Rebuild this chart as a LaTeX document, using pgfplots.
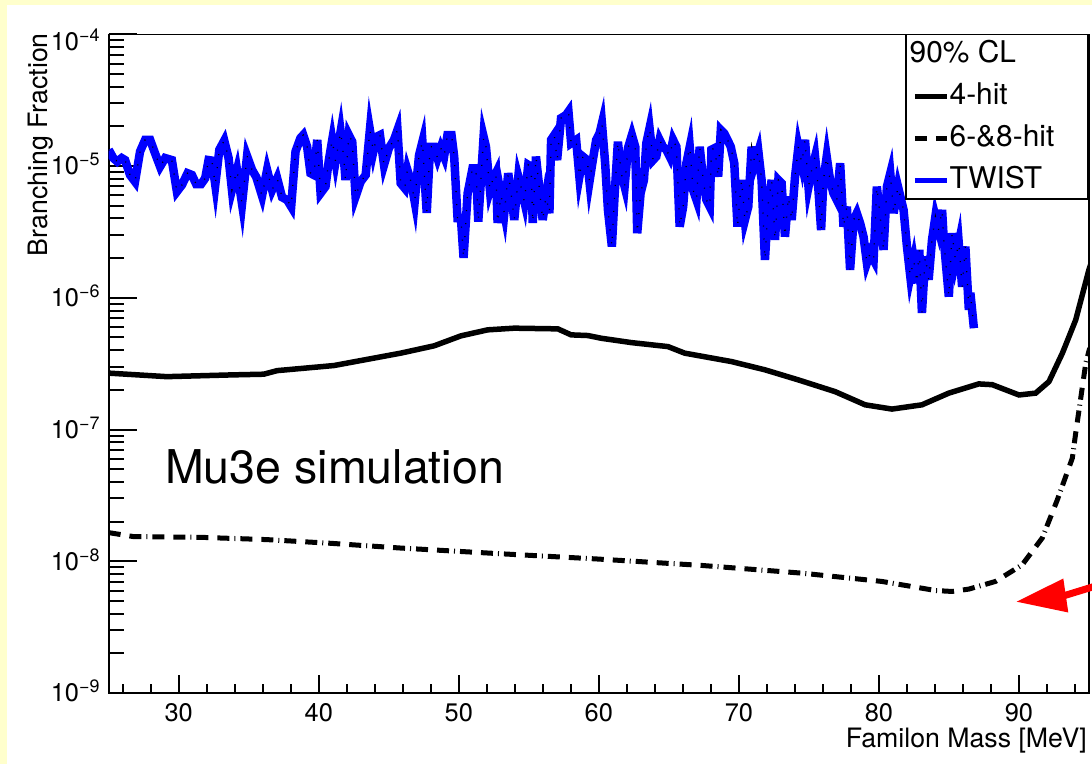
\documentclass[border=0pt]{standalone}
\usepackage{pgfplots}
\usepackage{pgfplotstable}
\pgfplotsset{compat=1.18}
\usepackage{fontspec}
\setmainfont{TeX Gyre Heros}

\definecolor{slideyellow}{RGB}{255,255,204}
\definecolor{rootblue}{RGB}{0,0,255}

% decade label in ROOT style: 10 with a raised exponent
\newcommand{\dec}[1]{10\smash{\raisebox{9bp}{\fontsize{18}{18}\selectfont −#1}}}

% 4-hit sensitivity (90% CL)
\pgfplotstableread{
m bf
25.00 2.68e-7
29.15 2.52e-7
33.90 2.60e-7
36.07 2.63e-7
37.03 2.80e-7
41.08 3.06e-7
45.85 3.80e-7
48.24 4.32e-7
50.15 5.14e-7
52.06 5.71e-7
53.96 5.88e-7
57.07 5.81e-7
58.02 5.23e-7
59.22 5.17e-7
60.17 4.93e-7
62.32 4.57e-7
64.94 4.26e-7
66.13 3.80e-7
69.47 3.28e-7
71.86 2.84e-7
74.25 2.38e-7
76.87 1.94e-7
79.02 1.54e-7
80.93 1.43e-7
83.07 1.54e-7
84.99 1.89e-7
87.13 2.22e-7
88.09 2.19e-7
90.00 1.83e-7
91.19 1.89e-7
92.14 2.31e-7
93.10 3.80e-7
94.05 6.79e-7
95.00 1.64e-6
95.20 1.90e-6
}\fourhit

% 6- and 8-hit sensitivity (90% CL)
\pgfplotstableread{
m bf
25.00 1.65e-8
26.76 1.54e-8
31.55 1.52e-8
36.31 1.46e-8
40.80 1.37e-8
45.85 1.26e-8
53.01 1.14e-8
59.93 1.04e-8
67.33 9.30e-9
74.48 8.13e-9
80.21 7.03e-9
84.03 6.00e-9
85.22 5.90e-9
86.42 6.15e-9
88.32 7.03e-9
90.23 9.40e-9
91.66 1.50e-8
92.74 2.93e-8
93.81 6.07e-8
94.05 9.40e-8
94.77 3.19e-7
95.05 4.15e-7
}\sixeighthit

% TWIST limit
\pgfplotstableread{
m bf
25.00 1.33e-5
25.33 1.15e-5
25.62 1.08e-5
25.93 1.15e-5
26.17 1.11e-5
26.52 0.856e-5
26.88 0.761e-5
27.24 1.29e-5
27.60 1.58e-5
27.96 1.58e-5
28.31 1.25e-5
28.67 0.990e-5
29.03 1.15e-5
29.51 1.11e-5
29.87 0.640e-5
30.23 0.719e-5
30.63 0.882e-5
30.94 0.856e-5
31.25 0.728e-5
31.59 0.728e-5
31.89 0.807e-5
32.13 1.11e-5
32.37 1.10e-5
32.61 0.719e-5
32.90 1.33e-5
33.25 1.56e-5
33.56 1.15e-5
33.80 0.659e-5
34.16 0.934e-5
34.52 0.516e-5
34.88 1.19e-5
35.24 0.934e-5
35.54 0.823e-5
35.95 0.594e-5
36.31 0.934e-5
36.67 0.659e-5
37.03 0.807e-5
37.38 0.580e-5
37.74 0.553e-5
38.03 0.492e-5
38.34 1.29e-5
38.69 1.63e-5
38.89 1.72e-5
39.17 1.40e-5
39.41 0.882e-5
39.65 0.856e-5
39.89 1.58e-5
40.13 0.622e-5
40.48 0.698e-5
40.72 1.11e-5
40.96 1.58e-5
41.20 1.08e-5
41.56 1.83e-5
41.79 1.15e-5
41.91 0.784e-5
42.15 1.72e-5
42.39 1.53e-5
42.63 0.587e-5
42.99 0.761e-5
43.35 0.856e-5
43.65 1.88e-5
43.90 1.29e-5
44.13 1.67e-5
44.37 1.72e-5
44.66 1.02e-5
45.01 1.37e-5
45.37 1.58e-5
45.62 1.88e-5
45.85 0.740e-5
46.14 0.679e-5
46.33 0.934e-5
46.62 0.740e-5
46.85 0.537e-5
47.16 1.21e-5
47.40 1.53e-5
47.71 0.441e-5
47.95 1.40e-5
48.24 1.40e-5
48.48 1.15e-5
48.71 1.37e-5
48.95 1.18e-5
49.19 1.72e-5
49.48 1.72e-5
49.67 1.18e-5
49.91 0.402e-5
50.15 0.402e-5
50.34 0.201e-5
50.63 0.622e-5
50.98 0.962e-5
51.22 0.962e-5
51.39 0.379e-5
51.58 0.784e-5
51.77 1.67e-5
51.94 1.40e-5
52.22 0.659e-5
52.42 0.784e-5
52.65 0.882e-5
52.77 0.370e-5
53.01 0.604e-5
53.25 0.439e-5
53.53 0.882e-5
53.73 0.622e-5
53.96 0.390e-5
54.25 0.831e-5
54.44 0.698e-5
54.68 0.537e-5
54.96 1.02e-5
55.16 0.990e-5
55.28 0.370e-5
55.51 1.18e-5
55.75 0.679e-5
55.99 0.390e-5
56.23 0.587e-5
56.47 0.439e-5
56.59 1.58e-5
56.82 1.72e-5
57.02 1.11e-5
57.30 2.31e-5
57.66 2.44e-5
57.83 2.59e-5
58.02 1.49e-5
58.38 1.58e-5
58.61 0.831e-5
58.86 1.18e-5
59.17 1.11e-5
59.33 0.761e-5
59.57 1.11e-5
59.81 1.58e-5
60.05 1.77e-5
60.22 2.11e-5
60.45 1.05e-5
60.65 0.464e-5
60.93 0.245e-5
61.12 0.587e-5
61.36 1.53e-5
61.60 0.882e-5
61.84 0.698e-5
62.08 1.37e-5
62.36 1.72e-5
62.60 1.40e-5
62.74 0.309e-5
62.98 0.622e-5
63.22 0.784e-5
63.39 1.49e-5
63.62 1.94e-5
63.87 1.11e-5
64.10 1.18e-5
64.34 1.58e-5
64.58 1.40e-5
64.82 1.33e-5
65.06 1.18e-5
65.30 1.58e-5
65.54 1.40e-5
65.77 0.347e-5
66.02 0.492e-5
66.25 1.05e-5
66.49 1.40e-5
66.73 0.659e-5
66.97 0.553e-5
67.20 1.40e-5
67.45 0.784e-5
67.68 0.553e-5
67.92 0.492e-5
68.04 1.33e-5
68.28 1.37e-5
68.52 0.831e-5
68.71 1.88e-5
68.95 1.77e-5
69.19 1.58e-5
69.42 1.40e-5
69.67 1.05e-5
69.90 0.347e-5
70.19 0.784e-5
70.43 0.390e-5
70.67 0.492e-5
70.91 1.40e-5
71.14 1.05e-5
71.39 1.29e-5
71.62 0.784e-5
71.86 0.194e-5
72.10 0.522e-5
72.34 0.784e-5
72.58 0.275e-5
72.82 0.784e-5
73.05 0.740e-5
73.29 0.291e-5
73.53 0.587e-5
73.77 0.390e-5
74.01 0.831e-5
74.25 1.40e-5
74.49 1.05e-5
74.72 1.58e-5
74.97 0.698e-5
75.20 0.934e-5
75.44 1.18e-5
75.68 0.659e-5
75.87 0.327e-5
76.04 0.784e-5
76.27 1.18e-5
76.51 0.784e-5
76.75 0.622e-5
76.99 0.553e-5
77.23 1.05e-5
77.47 0.347e-5
77.71 0.492e-5
77.94 0.163e-5
78.19 0.390e-5
78.42 0.439e-5
78.66 0.368e-5
78.90 0.291e-5
79.14 0.184e-5
79.37 0.218e-5
79.62 0.194e-5
79.85 0.698e-5
80.09 0.414e-5
80.33 0.231e-5
80.57 0.698e-5
80.81 0.882e-5
81.05 0.439e-5
81.36 0.698e-5
81.76 0.464e-5
82.00 0.245e-5
82.24 0.145e-5
82.48 0.194e-5
82.72 0.129e-5
82.88 0.231e-5
83.07 0.0768e-5
83.31 0.206e-5
83.55 0.137e-5
83.79 0.275e-5
84.03 0.414e-5
84.27 0.327e-5
84.51 0.464e-5
84.63 0.275e-5
84.99 0.102e-5
85.22 0.309e-5
85.46 0.194e-5
85.70 0.260e-5
85.94 0.121e-5
86.17 0.245e-5
86.42 0.0810e-5
86.53 0.109e-5
86.78 0.0588e-5
}\twist

\begin{document}
\begin{tikzpicture}
\path[use as bounding box] (0bp,0bp) rectangle (1092bp,764bp);
\fill[slideyellow] (0bp,0bp) rectangle (1092bp,764bp);
\fill[white] (7bp,0bp) rectangle (1092bp,759bp);

% main frame, y ticks, curves and legend
\begin{axis}[
  at={(108.7bp,71bp)}, anchor=south west,
  scale only axis, width=980.3bp, height=658.7bp,
  xmin=25, xmax=95,
  ymode=log, ymin=1e-9, ymax=1e-4,
  tick align=inside,
  ticklabel style={font=\fontsize{25.5}{25.5}\selectfont, inner sep=0pt},
  axis line style={black, line width=1.6bp},
  xtick=\empty, minor xtick={},
  ytick pos=left,
  ytick={1e-9,1e-8,1e-7,1e-6,1e-5},
  yticklabels={\dec{9},\dec{8},\dec{7},\dec{6},\dec{5}},
  extra y ticks={1e-4},
  extra y tick labels={\dec{4}},
  extra y tick style={yticklabel style={yshift=-7bp}},
  minor ytick={2e-9,3e-9,4e-9,5e-9,6e-9,7e-9,8e-9,9e-9,
               2e-8,3e-8,4e-8,5e-8,6e-8,7e-8,8e-8,9e-8,
               2e-7,3e-7,4e-7,5e-7,6e-7,7e-7,8e-7,9e-7,
               2e-6,3e-6,4e-6,5e-6,6e-6,7e-6,8e-6,9e-6,
               2e-5,3e-5,4e-5,5e-5,6e-5,7e-5,8e-5,9e-5},
  major tick length=28bp, minor tick length=15bp,
  every tick/.style={line width=2bp, black},
  yticklabel shift=9bp,
  xlabel={Familon Mass [MeV]},
  ylabel={Branching Fraction},
  label style={font=\fontsize{26.8}{26.8}\selectfont, inner sep=0pt},
  xlabel style={at={(axis description cs:0.998,-0.082)}, anchor=base east},
  ylabel style={at={(axis description cs:-0.0629,1.002)}, anchor=base east},
  legend image code/.code={\draw[#1] (0bp,0bp) -- (32bp,0bp);},
  legend cell align=left,
  legend style={at={(axis description cs:0.8133,0.999)}, anchor=north west,
    draw=none, fill=none, inner xsep=6bp, inner ysep=5bp,
    font=\fontsize{30}{30}\selectfont, row sep=13bp,
    nodes={inner sep=0pt, text height=22bp, text depth=7bp},
    /tikz/every even column/.append style={column sep=6bp}},
]
\addlegendimage{empty legend}
\addlegendentry{\hspace*{-40bp}90\% CL}

\addplot[rootblue, line width=8.5bp, line join=miter, miter limit=8, forget plot] table[x=m, y=bf] {\twist};
\addplot[black, line width=1.3bp, dash pattern=on 1bp off 12bp, forget plot] table[x=m, y=bf] {\twist};

\addplot[black, line width=5.5bp] table[x=m, y=bf] {\fourhit};
\addlegendentry{4-hit}

\addplot[black, line width=5bp, dash pattern=on 12bp off 9bp on 12bp off 5bp on 1bp off 5bp] table[x=m, y=bf] {\sixeighthit};
\addlegendentry{6-\&8-hit}

\addlegendimage{rootblue, line width=4.5bp}
\addlegendentry{TWIST}

% legend frame, drawn over the curves
\draw[black, line width=1.4bp, fill=white] (axis description cs:0.8133,1) rectangle (axis description cs:0.999,0.750);
\end{axis}

% bottom axis with its ticks (shorter than on the y axis) and labels
\begin{axis}[
  at={(108.7bp,71bp)}, anchor=south west,
  scale only axis, width=980.3bp, height=658.7bp,
  xmin=25, xmax=95,
  ymin=0, ymax=1,
  axis x line*=bottom,
  axis y line=none,
  x axis line style={-, black, line width=1.6bp},
  tick align=inside,
  /pgf/number format/assume math mode=true,
  ticklabel style={font=\fontsize{25.5}{25.5}\selectfont, inner sep=0pt},
  xtick={30,40,...,90},
  minor xtick={26,28,...,94},
  major tick length=18bp, minor tick length=9bp,
  every tick/.style={line width=2bp, black},
  xticklabel shift=10bp,
]
\end{axis}

\node[anchor=base west, inner sep=0pt, font=\fontsize{46.7}{46.7}\selectfont] at (165bp,280bp) {Mu3e simulation};

% red pointer arrow
\begin{scope}
  \clip (0bp,0bp) rectangle (1092bp,764bp);
  \draw[red, line width=7bp] (1110bp,182.4bp) -- (1055bp,165.5bp);
  \fill[red] (1016.7bp,162.3bp) -- (1063.3bp,185.5bp) -- (1068.3bp,151.5bp) -- cycle;
\end{scope}
\end{tikzpicture}
\end{document}
